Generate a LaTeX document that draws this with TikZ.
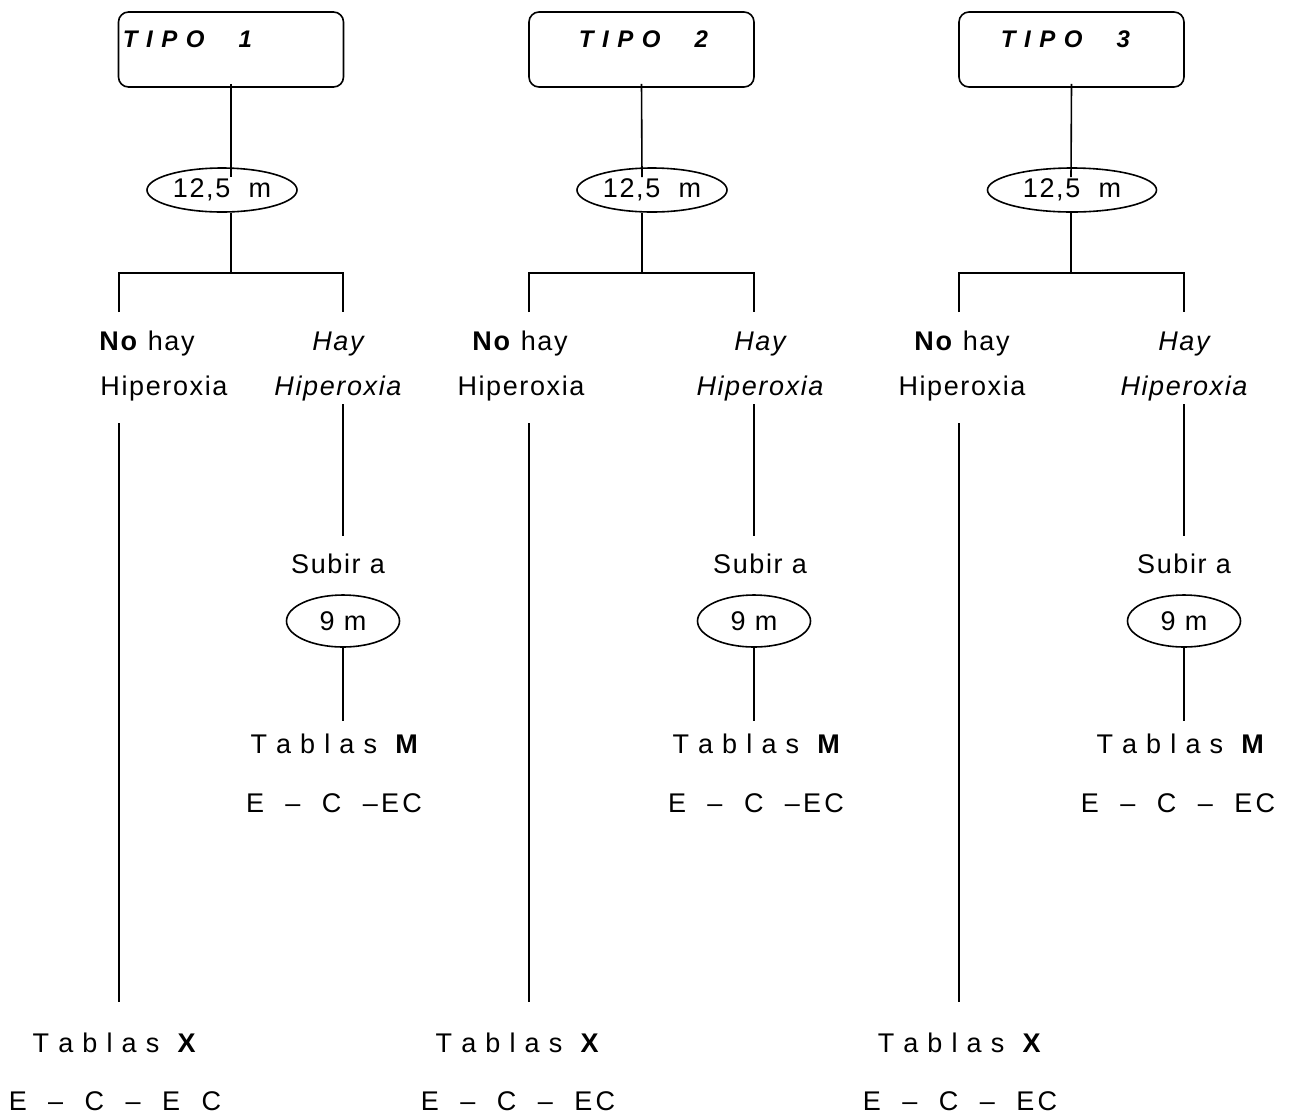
\documentclass[tikz,border=0pt]{standalone}
\usepackage{fontspec}
\setmainfont{Liberation Sans}[LetterSpace=6]
\usetikzlibrary{shapes.geometric}

\begin{document}
\begin{tikzpicture}[x=0.5pt,y=-0.5pt,line width=0.8pt,
        tipobox/.style={draw,rounded corners=5pt,minimum width=112.5pt,minimum height=37.5pt,inner sep=0pt},
        prof/.style={draw,ellipse,inner sep=0pt,minimum height=22pt},
        txt/.style={inner sep=0pt,anchor=base,font=\fontsize{13.5}{16}\selectfont},
        ectxt/.style={txt,font=\fontsize{13.5}{16}\selectfont\addfontfeature{LetterSpace=12}},
        tipotxt/.style={inner sep=0pt,anchor=base west,font=\fontsize{12}{14}\selectfont\bfseries\itshape\addfontfeature{LetterSpace=8}}]
    \useasboundingbox (0,0) rectangle (1290,1115);
    \foreach \L/\R/\M/\ec/\ew/\ts/\n/\nh/\nhb/\hy/\tm/\emc/\emt/\tx/\bx/\bxt in {
        119/343/231/222/75/122/1/147/164/338/335/334/{E \ -- \ C \ --EC}/115/115/{E \ -- \ C \ -- \ E \ C},
        529/754/642/652/75/578/2/520/521/760/757/756/{E \ -- \ C \ --EC}/518/518/{E \ -- \ C \ -- \ EC},
        959/1184/1071/1072/84.5/1000/3/962/962/1184/1181/1178/{E \ -- \ C \ -- \ EC}/960/960/{E \ -- \ C \ -- \ EC}}{
        % cabecera
        \node[tipobox] (tipo\n) at ({(\L+\R)/2},49.5) {};
        \node[tipotxt] (tipotxt\n) at (\ts,47) {T I P O\hspace{17pt}\n};
        \node[prof,minimum width=\ew pt,txt,anchor=center] (prof\n) at (\ec,190) {12,5\ \ m};
        \coordinate (a\n) at (\M,177);
        \coordinate (j\n) at (\M,273);
        \coordinate (bl\n) at (\L,273);
        \coordinate (br\n) at (\R,273);
        \coordinate (dl\n) at (\L,312);
        \coordinate (dr\n) at (\R,312);
        \draw ([yshift=2pt]tipo\n.south) -- (a\n);
        \draw (j\n |- prof\n.south) -- (j\n);
        \draw (dl\n) -- (bl\n) -- (br\n) -- (dr\n);
        % ramas
        \node[txt] (nohay\n) at (\nh,350) {\textbf{No} hay};
        \node[txt] (hipno\n) at (\nhb,395) {Hiperoxia};
        \node[txt] (hay\n) at (\hy,350) {\itshape Hay};
        \node[txt] (hipsi\n) at (\hy,395) {\itshape Hiperoxia};
        \coordinate (ls\n) at (\L,423);
        \coordinate (le\n) at (\L,1002);
        \coordinate (rs\n) at (\R,404);
        \coordinate (re\n) at (\R,536);
        \draw (ls\n) -- (le\n);
        \draw (rs\n) -- (re\n);
        \node[txt] (subir\n) at (\hy,573) {Subir a};
        \node[prof,minimum width=56.5pt,minimum height=26pt,txt,anchor=center] (nueve\n) at (\R,621) {9 m};
        \coordinate (me\n) at (\R,721);
        \draw (nueve\n.south) -- (me\n);
        \node[txt] (tablasm\n) at (\tm,753) {T a b l a s\ \ \textbf{M}};
        \node[ectxt] (ecm\n) at (\emc,812) {\emt};
        \node[txt] (tablasx\n) at (\tx,1052) {T a b l a s\ \ \textbf{X}};
        \node[ectxt] (ecx\n) at (\bx,1110) {\bxt};
    }
\end{tikzpicture}
\end{document}
